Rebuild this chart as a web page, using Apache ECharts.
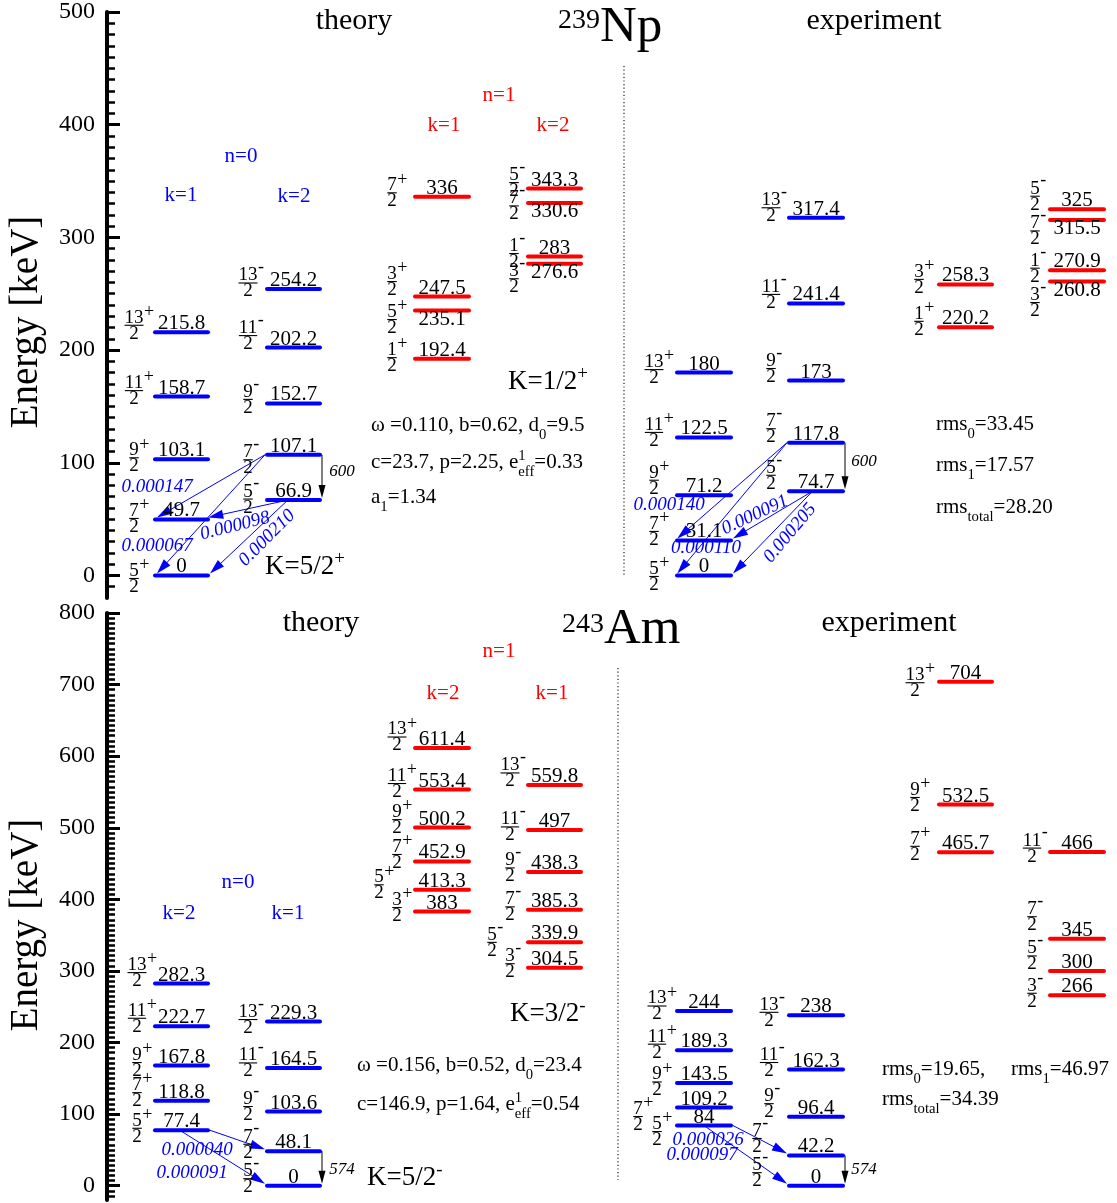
<!DOCTYPE html>
<html><head><meta charset="utf-8">
<script src="https://cdn.jsdelivr.net/npm/echarts@6.0.0/dist/echarts.min.js"></script>
<style>html,body{margin:0;padding:0;background:#fff}#c{width:1117px;height:1203px}</style>
</head><body><div id="c"></div>
<script>
// ================= DATA =================
// ---- 239Np, theory ----
const npThK1E = [0, 49.7, 103.1, 158.7, 215.8];
const npThK1J = ['5/2+', '7/2+', '9/2+', '11/2+', '13/2+'];
const npThK2E = [66.9, 107.1, 152.7, 202.2, 254.2];
const npThK2J = ['5/2-', '7/2-', '9/2-', '11/2-', '13/2-'];
const npThN1K1E = [192.4, 235.1, 247.5, 336];
const npThN1K1J = ['1/2+', '5/2+', '3/2+', '7/2+'];
const npThN1K2E = [276.6, 283, 330.6, 343.3];
const npThN1K2J = ['3/2-', '1/2-', '7/2-', '5/2-'];
// ---- 239Np, experiment ----
const npExK1E = [0, 31.1, 71.2, 122.5, 180];
const npExK1J = ['5/2+', '7/2+', '9/2+', '11/2+', '13/2+'];
const npExK2E = [74.7, 117.8, 173, 241.4, 317.4];
const npExK2J = ['5/2-', '7/2-', '9/2-', '11/2-', '13/2-'];
const npExN1K1E = [220.2, 258.3];
const npExN1K1J = ['1/2+', '3/2+'];
const npExN1K2E = [260.8, 270.9, 315.5, 325];
const npExN1K2J = ['3/2-', '1/2-', '7/2-', '5/2-'];
// ---- 239Np transitions ----
const npThTrFrom = [107.1, 107.1, 66.9, 66.9];
const npThTrTo = [49.7, 0, 49.7, 0];
const npThTrVal = ['0.000147', '0.000067', '0.000098', '0.000210'];
const npThE2 = [107.1, 66.9];
const npThE2Val = '600';
const npExTrFrom = [117.8, 117.8, 74.7, 74.7];
const npExTrTo = [31.1, 0, 31.1, 0];
const npExTrVal = ['0.000140', '0.000110', '0.000091', '0.000205'];
const npExE2 = [117.8, 74.7];
const npExE2Val = '600';

// ---- 243Am, theory ----
const amThK2E = [77.4, 118.8, 167.8, 222.7, 282.3];
const amThK2J = ['5/2+', '7/2+', '9/2+', '11/2+', '13/2+'];
const amThK1E = [0, 48.1, 103.6, 164.5, 229.3];
const amThK1J = ['5/2-', '7/2-', '9/2-', '11/2-', '13/2-'];
const amThN1K2E = [383, 413.3, 452.9, 500.2, 553.4, 611.4];
const amThN1K2J = ['3/2+', '5/2+', '7/2+', '9/2+', '11/2+', '13/2+'];
const amThN1K1E = [304.5, 339.9, 385.3, 438.3, 497, 559.8];
const amThN1K1J = ['3/2-', '5/2-', '7/2-', '9/2-', '11/2-', '13/2-'];
// ---- 243Am, experiment ----
const amExK2E = [84, 109.2, 143.5, 189.3, 244];
const amExK2J = ['5/2+', '7/2+', '9/2+', '11/2+', '13/2+'];
const amExK1E = [0, 42.2, 96.4, 162.3, 238];
const amExK1J = ['5/2-', '7/2-', '9/2-', '11/2-', '13/2-'];
const amExN1K2E = [465.7, 532.5, 704];
const amExN1K2J = ['7/2+', '9/2+', '13/2+'];
const amExN1K1E = [266, 300, 345, 466];
const amExN1K1J = ['3/2-', '5/2-', '7/2-', '11/2-'];
// ---- 243Am transitions ----
const amThTrFrom = [77.4, 77.4];
const amThTrTo = [48.1, 0];
const amThTrVal = ['0.000040', '0.000091'];
const amThE2 = [48.1, 0];
const amThE2Val = '574';
const amExTrFrom = [84, 84];
const amExTrTo = [42.2, 0];
const amExTrVal = ['0.000026', '0.000097'];
const amExE2 = [42.2, 0];
const amExE2Val = '574';

// ---- axis ticks ----
const npTicks = [0, 100, 200, 300, 400, 500];
const amTicks = [0, 100, 200, 300, 400, 500, 600, 700, 800];

// ================= LAYOUT / STYLE =================
const FONT = '"Liberation Serif","Times New Roman",serif';
const BLUE = '#0000ff', RED = '#ff0000';
const FS_FRAC = 19;
const COLS = { A: [153, 210], B: [265, 322], C: [413, 471], D: [526, 583],
               E: [675, 733], F: [787, 845], G: [937, 994], H: [1048, 1106] };
const LAYOUT = {
  npThK1: { dx: -19, fdy: [3, -1, -1.5, -6, -7] },
  npThK2: { dx: -17, fdy: [-1, 5, -4, -12, -6] },
  npThN1K1: { dx: -21, fdy: [-1, 9, -15, -4], below: [1] },
  npThN1K2: { dx: -12, fdy: [15, -3, 3, -6], below: [0, 2] },
  npExK1: { dx: -21, fdy: [1, -9, -15, -5, -3] },
  npExK2: { dx: -16, fdy: [-16, -14, -12, -9, -10] },
  npExN1K1: { dx: -18, fdy: [-6, -5] },
  npExN1K2: { dx: -13, fdy: [21, -2, 11, -13], below: [0, 2] },
  amThK2: { dx: -16, fdy: [-2, -8, -3, -8, -11] },
  amThK1: { dx: -17, fdy: [-7, -7, -5, -5, -2] },
  amThN1K2: { dx: -16, fdy: [-4, -5, -7, -8, -6, -11], ov: { 1: -34 } },
  amThN1K1: { dx: -16, fdy: [-4, 0, -3, -4, -3, -12], ov: { 1: -34 } },
  amExK2: { dx: -18, fdy: [6, 9, -1, -6, -5], ov: { 1: -37 } },
  amExK1: { dx: -18, fdy: [-13, -17, -13, -7, -3], ov: { 0: -30, 1: -30 } },
  amExN1K2: { dx: -22, fdy: [-6, -7, 1] },
  amExN1K1: { dx: -16, fdy: [-2, -15, -22, -4] }
};
// transitions: [fromCol, fromFrac, toCol, toFrac]
const TR_LAYOUT = {
  npTh: [['B', 0, 'A', 0.07], ['B', 0, 'A', 0.07], ['B', 0.4, 'A', 0.97], ['B', 0.4, 'A', 1]],
  npEx: [['F', 0, 'E', 0.04], ['F', 0, 'E', 0.04], ['F', 0.44, 'E', 1], ['F', 0.44, 'E', 1]],
  amTh: [['A', 1, 'B', 0], ['A', 0.47, 'B', 0]],
  amEx: [['E', 1, 'F', 0], ['E', 0.5, 'F', 0]]
};
// transition label positions [x, y, rotationDeg]
const TR_LABEL_POS = {
  npTh: [[157, 487, 0], [157, 546, 0], [235, 526, 14], [267, 538, 45]],
  npEx: [[669, 505, 0], [706, 548, 0], [755, 515, 25], [790, 533, 50]],
  amTh: [[197, 1150, 0], [192, 1173, 0]],
  amEx: [[708, 1140, 0], [702, 1155, 0]]
};
const E2_LABEL_POS = { npTh: [342, 472], npEx: [864, 462], amTh: [342, 1170], amEx: [864, 1170] };

const mctx = document.createElement('canvas').getContext('2d');
function font(size, italic) { return (italic ? 'italic ' : '') + size + 'px ' + FONT; }
function tw(t, f) { mctx.font = f; return mctx.measureText(t).width; }

function txt(text, x, y, size, o) {
  o = o || {};
  return {
    type: 'text', x: x, y: y, rotation: o.rot || 0, silent: true, z: o.z || 100,
    style: { text: text, font: font(size, o.italic), fill: o.color || '#000',
      align: o.align || 'center', textAlign: o.align || 'center',
      verticalAlign: o.va || 'middle', textVerticalAlign: o.va || 'middle' }
  };
}
// run of text with sub/superscripts; yb = baseline
function run(x, yb, size, parts, color) {
  const els = []; let cx = x;
  function put(t, s, dy, atX) {
    els.push(txt(t, atX, yb + dy - 0.34 * s, s, { align: 'left', color: color }));
    return tw(t, font(s));
  }
  parts.forEach(p => {
    if (typeof p === 'string') cx += put(p, size, 0, cx);
    else if (p.sub) cx += put(p.sub, size * 0.7, size * 0.32, cx);
    else if (p.sup) cx += put(p.sup, size * 0.7, -size * 0.4, cx);
    else if (p.stack) {
      const w1 = put(p.stack[0], size * 0.7, -size * 0.4, cx);
      const w2 = put(p.stack[1], size * 0.7, size * 0.32, cx);
      cx += Math.max(w1, w2);
    }
  });
  return els;
}

function fraction(J, fx, by) {
  const m = J.match(/^(\d+)\/(\d+)([+-])$/);
  const num = m[1], den = m[2], sg = m[3];
  const wN = tw(num, font(FS_FRAC));
  return [
    txt(num, fx, by + 2, FS_FRAC, { va: 'bottom' }),
    { type: 'line', silent: true, shape: { x1: fx - wN / 2, y1: by, x2: fx + wN / 2, y2: by }, style: { stroke: '#000', lineWidth: 1.1 } },
    txt(den, fx, by - 1, FS_FRAC, { va: 'top' }),
    txt(sg, fx + wN / 2 + 0.5, sg === '+' ? by - 13 : by - 15.5, 18, { align: 'left' })
  ];
}

function levelSeries(id, panel, col, color, E, J) {
  const L = LAYOUT[id];
  const c = COLS[col];
  return {
    id: id, type: 'custom', xAxisIndex: panel, yAxisIndex: panel * 2, clip: false, silent: true, z: 10,
    encode: { x: [0, 2], y: 1 },
    data: E.map(e => [c[0], e, c[1]]),
    renderItem: function (params, api) {
      const i = params.dataIndex;
      const e = api.value(1);
      const a = api.coord([api.value(0), e]);
      const b = api.coord([api.value(2), e]);
      const y = a[1];
      const ch = [];
      ch.push({ type: 'line', shape: { x1: a[0] + 2, y1: y, x2: b[0] - 2, y2: y },
        style: { stroke: color, lineWidth: 4, lineCap: 'round' } });
      const below = L.below && L.below.indexOf(i) >= 0;
      ch.push(txt(String(E[i]), (a[0] + b[0]) / 2, below ? y - 1.5 : y + 2, 21, { va: below ? 'top' : 'bottom' }));
      const dx = (L.ov && L.ov[i] !== undefined) ? L.ov[i] : L.dx;
      fraction(J[i], a[0] + dx, y + L.fdy[i]).forEach(el => ch.push(el));
      return { type: 'group', children: ch };
    }
  };
}

function arrowEls(p, q, color, lw, hl, hw) {
  const dx = q[0] - p[0], dy = q[1] - p[1], L = Math.hypot(dx, dy);
  const ux = dx / L, uy = dy / L, nx = -uy, ny = ux;
  const bx = q[0] - ux * hl, by = q[1] - uy * hl;
  return [
    { type: 'line', shape: { x1: p[0], y1: p[1], x2: bx + ux * 2, y2: by + uy * 2 }, style: { stroke: color, lineWidth: lw } },
    { type: 'polygon', shape: { points: [[q[0], q[1]], [bx + nx * hw / 2, by + ny * hw / 2], [bx - nx * hw / 2, by - ny * hw / 2]] }, style: { fill: color } }
  ];
}
function xAt(col, f) { const c = COLS[col]; return c[0] + f * (c[1] - c[0]); }

function transSeries(key, panel, from, to) {
  const lay = TR_LAYOUT[key];
  return {
    id: key + 'Tr', type: 'custom', xAxisIndex: panel, yAxisIndex: panel * 2, clip: false, silent: true, z: 8,
    encode: { x: [0, 2], y: [1, 3] },
    data: from.map((e, i) => [xAt(lay[i][0], lay[i][1]), e, xAt(lay[i][2], lay[i][3]), to[i]]),
    renderItem: function (params, api) {
      const p = api.coord([api.value(0), api.value(1)]);
      const q = api.coord([api.value(2), api.value(3)]);
      q[1] -= 2;
      return { type: 'group', children: arrowEls(p, q, BLUE, 1, 15, 9) };
    }
  };
}
function e2Series(key, panel, col, pair) {
  const x = COLS[col][1];
  return {
    id: key + 'E2', type: 'custom', xAxisIndex: panel, yAxisIndex: panel * 2, clip: false, silent: true, z: 8,
    encode: { x: [0, 2], y: [1, 3] },
    data: [[x, pair[0], x, pair[1]]],
    renderItem: function (params, api) {
      const p = api.coord([api.value(0), api.value(1)]);
      const q = api.coord([api.value(2), api.value(3)]);
      q[1] -= 2;
      return { type: 'group', children: arrowEls(p, q, '#000', 1, 13, 7) };
    }
  };
}

// ---- axes ----
function majorAxis(grid, min, max, ticks) {
  return { gridIndex: grid, type: 'value', position: 'left', min: min, max: max,
    axisLine: { show: true, onZero: false, lineStyle: { color: '#000', width: 4 } },
    axisTick: { show: true, inside: true, length: 13, customValues: ticks, lineStyle: { color: '#000', width: 3 } },
    axisLabel: { show: true, customValues: ticks, margin: 12, color: '#000', fontFamily: FONT, fontSize: 24 },
    splitLine: { show: false } };
}
function minorAxis(grid, min, max, vals) {
  return { gridIndex: grid, type: 'value', position: 'left', min: min, max: max,
    axisLine: { show: false },
    axisTick: { show: true, inside: true, length: 8, customValues: vals, lineStyle: { color: '#000', width: 2.5 } },
    axisLabel: { show: false }, splitLine: { show: false } };
}
const npMinor = []; for (let k = -1; k <= 49; k++) if (k % 10 !== 0) npMinor.push(k * 10);
const amMinor = []; for (let k = -2; k <= 112; k++) if (k % 14 !== 0) amMinor.push(k * 100 / 14);

// ---- graphic annotations ----
const G = [];
function add(arr) { arr.forEach(e => G.push(e)); }
// panel 1
G.push(txt('theory', 354, 21, 30));
G.push(txt('239', 600, 21, 28, { align: 'right' }));
G.push(txt('Np', 600, 28, 51, { align: 'left' }));
G.push(txt('experiment', 874, 21, 30));
G.push(txt('n=0', 241, 156, 21, { color: BLUE }));
G.push(txt('k=1', 181, 195, 21, { color: BLUE }));
G.push(txt('k=2', 294, 196, 21, { color: BLUE }));
G.push(txt('n=1', 499, 95, 21, { color: RED }));
G.push(txt('k=1', 444, 125, 21, { color: RED }));
G.push(txt('k=2', 553, 125, 21, { color: RED }));
add(run(265, 576, 27, ['K=5/2', { sup: '+' }]));
add(run(508, 391, 27, ['K=1/2', { sup: '+' }]));
add(run(371, 433, 21, ['ω =0.110, b=0.62, d', { sub: '0' }, '=9.5']));
add(run(371, 470, 21, ['c=23.7, p=2.25, e', { stack: ['1', 'eff'] }, '=0.33']));
add(run(371, 505, 21, ['a', { sub: '1' }, '=1.34']));
add(run(936, 432, 21, ['rms', { sub: '0' }, '=33.45']));
add(run(936, 473, 21, ['rms', { sub: '1' }, '=17.57']));
add(run(936, 515, 21, ['rms', { sub: 'total' }, '=28.20']));
G.push(txt('Energy [keV]', 27, 322, 39, { rot: Math.PI / 2 }));
// panel 2
G.push(txt('theory', 321, 623, 30));
G.push(txt('243', 604, 625, 28, { align: 'right' }));
G.push(txt('Am', 604, 630, 51, { align: 'left' }));
G.push(txt('experiment', 889, 623, 30));
G.push(txt('n=1', 499, 651, 21, { color: RED }));
G.push(txt('k=2', 443, 693, 21, { color: RED }));
G.push(txt('k=1', 552, 693, 21, { color: RED }));
G.push(txt('n=0', 238, 882, 21, { color: BLUE }));
G.push(txt('k=2', 179, 913, 21, { color: BLUE }));
G.push(txt('k=1', 288, 913, 21, { color: BLUE }));
add(run(510, 1023, 27, ['K=3/2', { sup: '-' }]));
add(run(367, 1187, 27, ['K=5/2', { sup: '-' }]));
add(run(357, 1073, 21, ['ω =0.156, b=0.52, d', { sub: '0' }, '=23.4']));
add(run(357, 1112, 21, ['c=146.9, p=1.64, e', { stack: ['1', 'eff'] }, '=0.54']));
add(run(882, 1077, 21, ['rms', { sub: '0' }, '=19.65,']));
add(run(1011, 1077, 21, ['rms', { sub: '1' }, '=46.97']));
add(run(882, 1107, 21, ['rms', { sub: 'total' }, '=34.39']));
G.push(txt('Energy [keV]', 27, 925, 39, { rot: Math.PI / 2 }));
// transition labels
function trLabels(key, vals, e2val) {
  vals.forEach((v, i) => {
    const p = TR_LABEL_POS[key][i];
    G.push(txt(v, p[0], p[1], 19, { italic: true, color: BLUE, rot: p[2] * Math.PI / 180 }));
  });
  const q = E2_LABEL_POS[key];
  G.push(txt(e2val, q[0], q[1], 17, { italic: true }));
}
trLabels('npTh', npThTrVal, npThE2Val);
trLabels('npEx', npExTrVal, npExE2Val);
trLabels('amTh', amThTrVal, amThE2Val);
trLabels('amEx', amExTrVal, amExE2Val);
// dotted separators
G.push({ type: 'line', silent: true, shape: { x1: 624, y1: 66, x2: 624, y2: 577 }, style: { stroke: '#222', lineWidth: 1.2, lineDash: [1.2, 2.4] } });
G.push({ type: 'line', silent: true, shape: { x1: 618, y1: 668, x2: 618, y2: 1180 }, style: { stroke: '#222', lineWidth: 1.2, lineDash: [1.2, 2.4] } });

const option = {
  backgroundColor: '#fff',
  animation: false,
  grid: [
    { left: 107, right: 0, top: 11, height: 587 },
    { left: 107, right: 0, top: 613, height: 587 }
  ],
  xAxis: [
    { gridIndex: 0, type: 'value', min: 107, max: 1117, show: false },
    { gridIndex: 1, type: 'value', min: 107, max: 1117, show: false }
  ],
  yAxis: [
    majorAxis(0, -20, 500, npTicks), minorAxis(0, -20, 500, npMinor),
    majorAxis(1, -20, 800, amTicks), minorAxis(1, -20, 800, amMinor)
  ],
  series: [
    levelSeries('npThK1', 0, 'A', BLUE, npThK1E, npThK1J),
    levelSeries('npThK2', 0, 'B', BLUE, npThK2E, npThK2J),
    levelSeries('npThN1K1', 0, 'C', RED, npThN1K1E, npThN1K1J),
    levelSeries('npThN1K2', 0, 'D', RED, npThN1K2E, npThN1K2J),
    levelSeries('npExK1', 0, 'E', BLUE, npExK1E, npExK1J),
    levelSeries('npExK2', 0, 'F', BLUE, npExK2E, npExK2J),
    levelSeries('npExN1K1', 0, 'G', RED, npExN1K1E, npExN1K1J),
    levelSeries('npExN1K2', 0, 'H', RED, npExN1K2E, npExN1K2J),
    levelSeries('amThK2', 1, 'A', BLUE, amThK2E, amThK2J),
    levelSeries('amThK1', 1, 'B', BLUE, amThK1E, amThK1J),
    levelSeries('amThN1K2', 1, 'C', RED, amThN1K2E, amThN1K2J),
    levelSeries('amThN1K1', 1, 'D', RED, amThN1K1E, amThN1K1J),
    levelSeries('amExK2', 1, 'E', BLUE, amExK2E, amExK2J),
    levelSeries('amExK1', 1, 'F', BLUE, amExK1E, amExK1J),
    levelSeries('amExN1K2', 1, 'G', RED, amExN1K2E, amExN1K2J),
    levelSeries('amExN1K1', 1, 'H', RED, amExN1K1E, amExN1K1J),
    transSeries('npTh', 0, npThTrFrom, npThTrTo),
    transSeries('npEx', 0, npExTrFrom, npExTrTo),
    transSeries('amTh', 1, amThTrFrom, amThTrTo),
    transSeries('amEx', 1, amExTrFrom, amExTrTo),
    e2Series('npTh', 0, 'B', npThE2),
    e2Series('npEx', 0, 'F', npExE2),
    e2Series('amTh', 1, 'B', amThE2),
    e2Series('amEx', 1, 'F', amExE2)
  ],
  graphic: { elements: G }
};
const chart = echarts.init(document.getElementById('c'), null, { renderer: 'canvas' });
chart.setOption(option);
</script>
</body></html>
